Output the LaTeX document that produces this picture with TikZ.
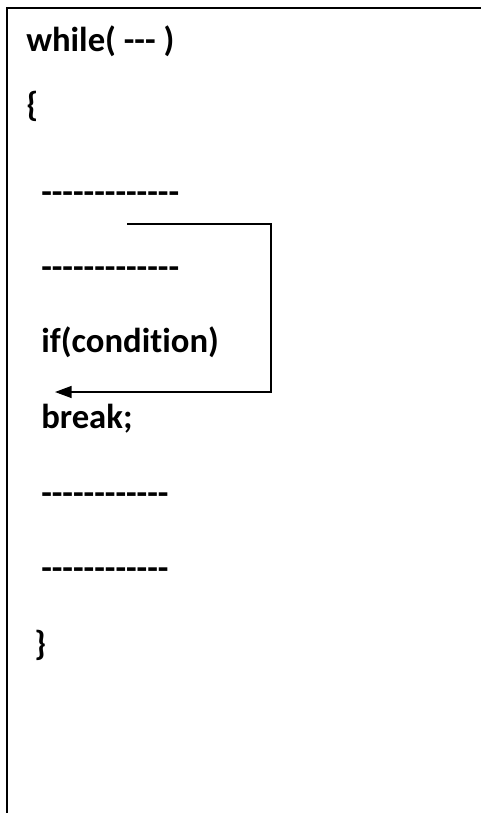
\documentclass[tikz,border=0pt]{standalone}
\usepackage{fontspec}
\setmainfont{Carlito}[Ligatures={TeXOff,NoCommon}]
\usepackage{tikz}
\usetikzlibrary{arrows.meta}
\usetikzlibrary{positioning}
\tikzset{codeline/.style={anchor=base west, inner sep=0pt, font=\fontsize{26}{31}\selectfont\bfseries}}

\begin{document}
\begin{tikzpicture}[x=0.75pt, y=-0.75pt]
      \useasboundingbox (0, 0) rectangle (481, 813);
      \draw [line width=1.8pt] (481, 8) -- (7, 8) -- (7, 813);
      \node [codeline] (head) at (26, 52) {while( --- )};
      \node [codeline] (open) at (26, 117) {\{};
      \node [codeline] (dashA) at (41, 203) {-------------};
      \node [codeline] (dashB) at (41, 278) {-------------};
      \node [codeline] (cond) at (41, 352) {if(condition)};
      \node [codeline] (brk) at (41, 428) {break;};
      \node [codeline] (dashC) at (41, 504) {------------};
      \node [codeline] (dashD) at (41, 579) {------------};
      \node [codeline] (close) at (34, 655) {\}};
      \coordinate (jumpfrom) at (127, 224);
      \coordinate (turn) at (271, 392);
      \coordinate (jumpto) at (55, 392);
      \draw [line width=1.1pt, -{Triangle[length=12.5pt, width=9pt]}] (jumpfrom) -| (turn) -- (jumpto);
    \end{tikzpicture}
\end{document}
